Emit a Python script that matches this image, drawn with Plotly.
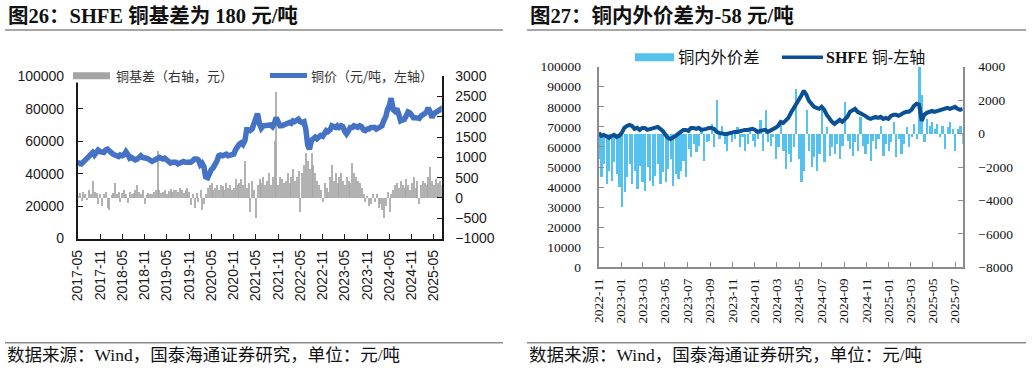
import pandas as pd
import plotly.graph_objects as go

W, H = 1032, 370


def px(x):
    return x / W


def py(y):
    return 1 - y / H


# ---------------- Panel 26: SHFE copper price & basis (semi-monthly) ----------------
copper_price = [
    45500, 46500, 46000, 47000, 48500, 50000, 51500, 52000, 53000, 51500, 53500, 54500, 53500, 53000, 53000, 54500,  # 2017-05..12
    55000, 54000, 52500, 52000, 51500, 51000, 50500, 51500, 51000, 51500, 53500, 52000,  # 2018-01..06
    49500, 50000, 49000, 48500, 49000, 50000, 51000, 50000, 50000, 49500, 49000, 48500,  # 2018-07..12
    47500, 48000, 48500, 49500, 50000, 49500, 49000, 49500, 48500, 47000, 46500, 47000,  # 2019-01..06
    47000, 47000, 46000, 46500, 47000, 47500, 47000, 47000, 47500, 47000, 48000, 49000,  # 2019-07..12
    49000, 48500, 45500, 46500, 44500, 38000, 37500, 41000, 42500, 43500, 45500, 47500,  # 2020-01..06
    51000, 51500, 51000, 51500, 52000, 51000, 51500, 51500, 52000, 54500, 57500, 58000,  # 2020-07..12
    59000, 58000, 60500, 67000, 67000, 66500, 67500, 70500, 74000, 77000, 70500, 68000,  # 2021-01..06
    69500, 69500, 70000, 69500, 70000, 69000, 71000, 74500, 71000, 69500, 69500, 70000,  # 2021-07..12
    70500, 71000, 71500, 71000, 72500, 72000, 73000, 73500, 72000, 71500, 72000, 67500,  # 2022-01..06
    57500, 55000, 60500, 62000, 62500, 61500, 63000, 63500, 63000, 65500, 66500, 66000,  # 2022-07..12
    67000, 69500, 69000, 68500, 69500, 68500, 69500, 69000, 66000, 64500, 66500, 68500,  # 2023-01..06
    68500, 69500, 69000, 68500, 69500, 69000, 67000, 66500, 67500, 67500, 68500, 68500,  # 2023-07..12
    68500, 67500, 68000, 68500, 69500, 72500, 75000, 79500, 82000, 86500, 79500, 78500,  # 2024-01..06
    80000, 77000, 72500, 73000, 73500, 75500, 78000, 77500, 76000, 74500, 74500, 74000,  # 2024-07..12
    74000, 75500, 76000, 77000, 78000, 80500, 78000, 74500, 77000, 77500, 78500, 79000,  # 2025-01..06
    80000, 78500,  # 2025-07
]

copper_basis = [
    50, 120, -80, 150, 100, -60, 200, 80, 400, 150, 120, -150, 100, -200, 80, 150,  # 2017-05..12
    -250, -300, 60, 120, 350, 100, 150, -100, 120, 200, 80, -120,  # 2018-01..06
    150, 100, 120, 200, 300, 150, 100, 180, -150, 60, 120, 80,  # 2018-07..12
    100, 150, 200, 1150, 180, 120, 150, 200, 100, 160, 220, 130,  # 2019-01..06
    180, 200, 150, 250, 200, 120, 180, 250, 150, -180, 100, -250,  # 2019-07..12
    120, -100, 200, -300, -150, 100, 250, 300, 350, 200, 250, 300,  # 2020-01..06
    200, 300, 280, 200, 350, 250, 300, 200, 250, 450, 300, 350,  # 2020-07..12
    450, 300, 900, 250, 350, -350, 400, 200, -500, 300, 450, 350,  # 2021-01..06
    500, 300, 400, 600, 300, 500, 1400, 2600, 300, 500, 450, 350,  # 2021-07..12
    400, 600, 350, 500, 700, 400, 500, 650, -350, 600, 800, 1100,  # 2022-01..06
    900, 700, 1100, 800, 600, 400, 300, 200, -100, 350, 250, 150,  # 2022-07..12
    500, 800, 400, 600, 350, 500, 600, 400, 300, 500, 400, 350,  # 2023-01..06
    850, 600, 500, 400, 350, 250, 100, -100, 50, -200, -150, 80,  # 2023-07..12
    -100, 100, -250, -150, -300, -500, -200, 150, -350, 100, 200, 300,  # 2024-01..06
    350, 250, 400, 300, 250, 450, 300, 200, 350, 500, 250, 400,  # 2024-07..12
    -150, 300, 400, 350, 300, 500, 750, 400, 300, 450, 350, 400,  # 2025-01..06
    300, 250,  # 2025-07
]

left_dates = pd.date_range("2017-05-01", periods=len(copper_price), freq="SMS")

# ---------------- Panel 27: SHFE copper & domestic-overseas spread (weekly) ----------------
shfe_copper = [
    67000, 65500, 66000, 65000, 64500,  # 2022-11
    65500, 66000, 65000, 65500,  # 2022-12
    67000, 69500, 70500, 71000, 70500,  # 2023-01
    69000, 69500, 68500, 69500,  # 2023-02
    69500, 68500, 69000, 69500,  # 2023-03
    69500, 70000, 69000, 68000,  # 2023-04
    66000, 64500, 64000, 64500, 65500,  # 2023-05
    66500, 67500, 68500, 68500,  # 2023-06
    68000, 69500, 69500, 69000,  # 2023-07
    69500, 68500, 68500, 69000,  # 2023-08
    69500, 69500, 69000, 67500, 67000,  # 2023-09
    66500, 66500, 66500, 67000,  # 2023-10
    67000, 67500, 67500, 68000,  # 2023-11
    68000, 68500, 68500, 69000, 69000,  # 2023-12
    68500, 67500, 68000, 68000,  # 2024-01
    68500, 67500, 68000, 68500,  # 2024-02
    69500, 70500, 72500, 72000, 73000,  # 2024-03
    74500, 77000, 79000, 81500,  # 2024-04
    83000, 85500, 88000, 86000, 83000,  # 2024-05
    81500, 80000, 79500, 79000,  # 2024-06
    80000, 78500, 76000, 74000,  # 2024-07
    72500, 71500, 72500, 73500,  # 2024-08
    72500, 73500, 75000, 77500, 78500,  # 2024-09
    79000, 77500, 77000, 76500,  # 2024-10
    75500, 74500, 74000, 74500,  # 2024-11
    75000, 74500, 75000, 74000, 74500,  # 2024-12
    74000, 75500, 76000, 76000,  # 2025-01
    75500, 76500, 77000, 77500,  # 2025-02
    77500, 78500, 80500, 81500, 81000,  # 2025-03
    73000, 76000, 77000, 77500,  # 2025-04
    78000, 77500, 78000, 78500,  # 2025-05
    78500, 79000, 79500, 79000, 79500,  # 2025-06
    80000, 79000, 78500, 79000,  # 2025-07
]

cu_spread = [
    -1500, -2600, -1800, -3000, -2200,  # 2022-11
    -2800, -1700, -2400, -3200,  # 2022-12
    -4400, -3500, -2600, -1800, -3000,  # 2023-01
    -2200, -3300, -1900, -2900,  # 2023-02
    -3400, -2000, -2800, -3100,  # 2023-03
    -2500, -1800, -3000, -2300,  # 2023-04
    -2900, -2100, -1500, -3100, -2400,  # 2023-05
    -2700, -2200, -1600, -2600,  # 2023-06
    -900, -1400, -600, -1100,  # 2023-07
    -700, 300, -1600, -500,  # 2023-08
    -400, 600, -800, 2000, -300,  # 2023-09
    500, -600, -1000, 200,  # 2023-10
    -500, -300, 400, -800,  # 2023-11
    -200, -1000, -600, 300, -400,  # 2023-12
    -800, -300, 800, -1000,  # 2024-01
    1400, -500, -700, -200,  # 2024-02
    -1500, -800, 600, -1000, -2100,  # 2024-03
    -1200, -1700, -800, 2700,  # 2024-04
    -1500, -2900, -2200, 1400, -1000,  # 2024-05
    -2000, -1400, -2200, -1200,  # 2024-06
    1700, -1700, 400, -1300,  # 2024-07
    -800, -1200, -600, -1500,  # 2024-08
    -700, 1900, -400, -900, -1300,  # 2024-09
    -500, -1000, 1000, -700,  # 2024-10
    -1200, -600, -1600, -400,  # 2024-11
    -900, -300, 500, -1300, -600,  # 2024-12
    -1000, -500, 700, -1400,  # 2025-01
    -300, -1200, -600, 400,  # 2025-02
    -800, -200, 600, -300, 4000,  # 2025-03
    2300, -500, 900, 500,  # 2025-04
    700, 300, 600, -200,  # 2025-05
    500, -900, 400, 700, 300,  # 2025-06
    -1000, 300, 500, -600,  # 2025-07
]

right_dates = pd.date_range("2022-11-01", periods=len(cu_spread), freq="7D")

# tick labels
left_y_ticks = [0, 20000, 40000, 60000, 80000, 100000]
left_y2_ticks = [-1000, -500, 0, 500, 1000, 1500, 2000, 2500, 3000]
right_y_ticks = [0, 10000, 20000, 30000, 40000, 50000, 60000, 70000, 80000, 90000, 100000]
right_y2_ticks = [-8000, -6000, -4000, -2000, 0, 2000, 4000]

# ---------------- styles ----------------
SANS = "Liberation Sans, Arial, sans-serif"
SERIF = "Liberation Serif, Times New Roman, serif"
CJK_SERIF = "Liberation Serif, Noto Sans CJK SC, serif"
CJK = "Noto Sans CJK SC, sans-serif"

BLUE = "#4472c4"
GRAY = "#a5a5a5"
LIGHTBLUE = "#55c1ef"
DARKBLUE = "#0b4f94"

DAY_MS = 86400000

fig = go.Figure()

fig.add_trace(go.Bar(
    x=left_dates, y=copper_basis, xaxis="x", yaxis="y",
    width=10 * DAY_MS,
    marker=dict(color=GRAY, line=dict(width=0), opacity=0.85), showlegend=False,
    name="铜基差（右轴，元）",
))
fig.add_trace(go.Scatter(
    x=left_dates, y=copper_price, xaxis="x", yaxis="y2", mode="lines",
    line=dict(color=BLUE, width=5.5), showlegend=False,
    name="铜价（元/吨，左轴）",
))
fig.add_trace(go.Bar(
    x=right_dates, y=cu_spread, xaxis="x2", yaxis="y3",
    width=6 * DAY_MS,
    marker=dict(color=LIGHTBLUE, line=dict(width=0)), showlegend=False,
    name="铜内外价差",
))
fig.add_trace(go.Scatter(
    x=right_dates, y=shfe_copper, xaxis="x2", yaxis="y4", mode="lines",
    line=dict(color=DARKBLUE, width=4), showlegend=False,
    name="SHFE 铜-左轴",
))

left_axis_common = dict(
    showline=True, linecolor="#1a1a1a", linewidth=1.6, ticks="inside", ticklen=5,
    tickcolor="#1a1a1a", tickwidth=1.4, showgrid=False, zeroline=False, automargin=False,
    tickfont=dict(family=SANS, size=14, color="#1a1a1a"),
)
right_axis_common = dict(
    showline=True, linecolor="#8c8c8c", linewidth=1.8, ticks="inside", ticklen=5,
    tickcolor="#8c8c8c", tickwidth=1.4, showgrid=False, zeroline=False, automargin=False,
    tickfont=dict(family=SERIF, size=13.5, color="#111111"),
)

fig.update_layout(
    width=W, height=H,
    margin=dict(l=0, r=0, t=0, b=0, autoexpand=False),
    paper_bgcolor="white", plot_bgcolor="white",
    showlegend=False, bargap=0,
    xaxis=dict(
        domain=[px(77.7), px(441.7)], anchor="y", type="date",
        range=["2017-05-01", "2025-07-04"], tick0="2017-05-01", dtick="M6",
        tickformat="%Y-%m", tickangle=-90, ticklabelstandoff=4,
        **left_axis_common,
    ),
    yaxis=dict(
        domain=[py(238.5), py(76.3)], anchor="x", side="right",
        range=[-1000, 3000], tickvals=left_y2_ticks, tickformat="d", ticklabelstandoff=9,
        **left_axis_common,
    ),
    yaxis2=dict(
        overlaying="y", anchor="x", side="left",
        range=[0, 100000], tickvals=left_y_ticks, tickformat="d", ticklabelstandoff=9,
        **left_axis_common,
    ),
    xaxis2=dict(
        domain=[px(598.7), px(962.7)], anchor="y3", type="date",
        range=["2022-11-01", "2025-07-22"], tick0="2022-11-01", dtick="M2",
        tickformat="%Y-%m", tickangle=-90, ticklabelstandoff=4,
        **right_axis_common,
    ),
    yaxis3=dict(
        domain=[py(267.3), py(66.7)], anchor="x2", side="right",
        range=[-8000, 4000], tickvals=right_y2_ticks, tickformat="d", ticklabelstandoff=11,
        **right_axis_common,
    ),
    yaxis4=dict(
        overlaying="y3", anchor="x2", side="left",
        range=[0, 100000], tickvals=right_y_ticks, tickformat="d", ticklabelstandoff=13,
        **right_axis_common,
    ),
)

shapes = [
    # title rules and footer rules
    dict(type="line", xref="paper", yref="paper", x0=px(5), x1=px(503), y0=py(30), y1=py(30),
         line=dict(color="#8a8a8a", width=1.5)),
    dict(type="line", xref="paper", yref="paper", x0=px(527), x1=px(1026), y0=py(30), y1=py(30),
         line=dict(color="#8a8a8a", width=1.5)),
    dict(type="line", xref="paper", yref="paper", x0=px(5), x1=px(503), y0=py(342.7), y1=py(342.7),
         line=dict(color="#8a8a8a", width=1.5)),
    dict(type="line", xref="paper", yref="paper", x0=px(527), x1=px(1026), y0=py(342.7), y1=py(342.7),
         line=dict(color="#8a8a8a", width=1.5)),
    # left legend background (covers the top of the axis as in the original)
    dict(type="rect", xref="paper", yref="paper", x0=px(70), x1=px(437), y0=py(82.5), y1=py(68),
         fillcolor="white", line=dict(width=0), layer="above"),
    dict(type="rect", xref="paper", yref="paper", x0=px(73), x1=px(110), y0=py(79.3), y1=py(72.3),
         fillcolor=GRAY, line=dict(width=0), layer="above"),
    dict(type="line", xref="paper", yref="paper", x0=px(270), x1=px(307), y0=py(75.5), y1=py(75.5),
         line=dict(color=BLUE, width=5), layer="above"),
    # right legend
    dict(type="rect", xref="paper", yref="paper", x0=px(635), x1=px(674), y0=py(61.3), y1=py(53.3),
         fillcolor=LIGHTBLUE, line=dict(width=0), layer="above"),
    dict(type="line", xref="paper", yref="paper", x0=px(782), x1=px(823), y0=py(57.3), y1=py(57.3),
         line=dict(color=DARKBLUE, width=3.5), layer="above"),
]

annotations = [
    dict(text="<b>图26：SHFE 铜基差为 180 元/吨</b>", x=px(6), y=py(16.5), xanchor="left", yanchor="middle",
         font=dict(family=CJK_SERIF, size=20.5, color="#111111")),
    dict(text="<b>图27：铜内外价差为-58 元/吨</b>", x=px(528), y=py(16.5), xanchor="left", yanchor="middle",
         font=dict(family=CJK_SERIF, size=20.5, color="#111111")),
    dict(text="数据来源：Wind，国泰海通证券研究，单位：元/吨", x=px(5), y=py(355), xanchor="left",
         yanchor="middle", font=dict(family=CJK_SERIF, size=17.5, color="#111111")),
    dict(text="数据来源：Wind，国泰海通证券研究，单位：元/吨", x=px(527), y=py(355), xanchor="left",
         yanchor="middle", font=dict(family=CJK_SERIF, size=17.5, color="#111111")),
    dict(text="铜基差（右轴，元）", x=px(114), y=py(75.5), xanchor="left", yanchor="middle",
         font=dict(family=CJK, size=13, color="#333333")),
    dict(text="铜价（元/吨，左轴）", x=px(309), y=py(75.5), xanchor="left", yanchor="middle",
         font=dict(family=CJK, size=13, color="#333333")),
    dict(text="铜内外价差", x=px(676), y=py(57.3), xanchor="left", yanchor="middle",
         font=dict(family=CJK_SERIF, size=16.3, color="#111111")),
    dict(text="<b>SHFE</b> 铜-左轴", x=px(824), y=py(57.3), xanchor="left", yanchor="middle",
         font=dict(family=CJK_SERIF, size=16, color="#111111")),
]
for a in annotations:
    a.update(xref="paper", yref="paper", showarrow=False)

fig.update_layout(shapes=shapes, annotations=annotations)

fig.write_html(
    "out.html",
    config={"displayModeBar": False},
    post_script="document.body.style.margin='0';document.body.style.padding='0';",
)
